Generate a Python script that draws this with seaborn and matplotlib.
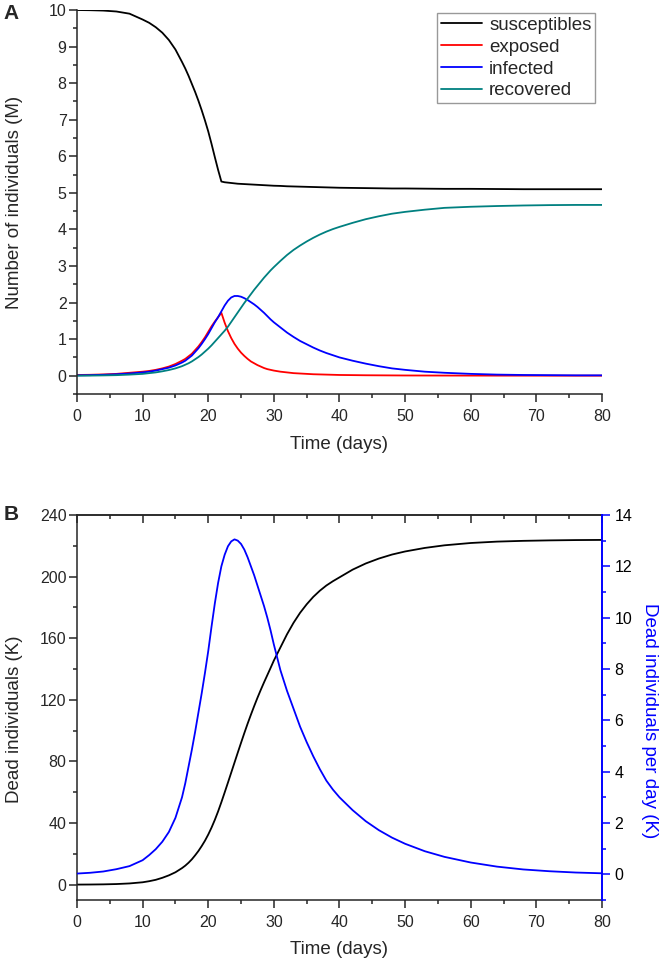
import matplotlib
matplotlib.use("Agg")
import matplotlib.pyplot as plt
from matplotlib.ticker import MultipleLocator
import pandas as pd
import seaborn as sns

# time grid (days), shared by both panels
days = [0, 2, 4, 6, 8, 10, 11, 12, 13, 14, 15, 16, 16.5, 17, 17.5, 18, 18.5, 19, 19.5,
        20, 20.5, 21, 21.5, 22, 22.5, 23, 23.5, 24, 24.5, 25, 25.5, 26, 26.5, 27, 27.5,
        28, 28.5, 29, 29.5, 30, 31, 32, 33, 34, 35, 36, 37, 38, 39, 40, 42, 44, 46, 48,
        50, 53, 56, 60, 64, 68, 72, 76, 80]

# Panel A: compartments (millions)
susceptibles = [10.0, 9.995, 9.985, 9.96, 9.9, 9.74, 9.65, 9.53, 9.38, 9.18, 8.92, 8.58,
                8.4, 8.2, 7.98, 7.76, 7.52, 7.26, 6.98, 6.68, 6.34, 5.98, 5.63, 5.31, 5.29,
                5.28, 5.27, 5.26, 5.25, 5.245, 5.24, 5.235, 5.23, 5.225, 5.22, 5.215, 5.21,
                5.205, 5.2, 5.195, 5.19, 5.18, 5.175, 5.17, 5.165, 5.16, 5.155, 5.15, 5.145,
                5.14, 5.135, 5.13, 5.125, 5.12, 5.12, 5.115, 5.11, 5.11, 5.105, 5.1, 5.1,
                5.1, 5.1]
exposed = [0.02, 0.025, 0.035, 0.05, 0.08, 0.11, 0.13, 0.16, 0.2, 0.25, 0.32, 0.41, 0.46,
           0.53, 0.6, 0.7, 0.8, 0.92, 1.05, 1.2, 1.35, 1.48, 1.6, 1.72, 1.45, 1.22, 1.03,
           0.87, 0.74, 0.63, 0.54, 0.46, 0.39, 0.34, 0.29, 0.25, 0.21, 0.18, 0.16, 0.14,
           0.11, 0.09, 0.07, 0.06, 0.05, 0.04, 0.035, 0.03, 0.025, 0.02, 0.016, 0.012,
           0.01, 0.008, 0.006, 0.005, 0.004, 0.003, 0.002, 0.002, 0.001, 0.001, 0.001]
infected = [0.01, 0.015, 0.025, 0.04, 0.06, 0.09, 0.11, 0.14, 0.18, 0.22, 0.28, 0.36, 0.41,
            0.48, 0.55, 0.65, 0.75, 0.87, 1.0, 1.14, 1.3, 1.46, 1.6, 1.76, 1.92, 2.05, 2.14,
            2.18, 2.18, 2.16, 2.12, 2.07, 2.01, 1.95, 1.88, 1.8, 1.72, 1.63, 1.54, 1.46,
            1.32, 1.18, 1.06, 0.95, 0.86, 0.77, 0.69, 0.62, 0.56, 0.5, 0.41, 0.33, 0.26,
            0.2, 0.16, 0.11, 0.08, 0.05, 0.03, 0.02, 0.015, 0.01, 0.01]
recovered = [0.0, 0.003, 0.008, 0.015, 0.03, 0.05, 0.07, 0.09, 0.12, 0.155, 0.2, 0.26, 0.3,
             0.34, 0.39, 0.45, 0.51, 0.58, 0.66, 0.74, 0.83, 0.93, 1.03, 1.13, 1.23, 1.34,
             1.47, 1.6, 1.73, 1.86, 1.99, 2.11, 2.23, 2.35, 2.46, 2.57, 2.68, 2.78, 2.88,
             2.97, 3.14, 3.3, 3.44, 3.56, 3.67, 3.77, 3.86, 3.94, 4.01, 4.07, 4.18, 4.28,
             4.36, 4.43, 4.48, 4.54, 4.59, 4.62, 4.64, 4.655, 4.665, 4.67, 4.67]

# Panel B: deaths (thousands)
dead_total = [0, 0.05, 0.15, 0.35, 0.75, 1.5, 2.2, 3.1, 4.4, 6.0, 8.0, 10.7, 12.3, 14.2,
              16.4, 19, 21.8, 25, 28.5, 32.5, 37, 42, 47.5, 53.5, 59.8, 66.2, 72.7, 79.2,
              85.7, 92.1, 98.4, 104.5, 110.3, 115.9, 121.3, 126.4, 131.3, 136, 140.7,
              145.5, 154, 162.5, 170, 176.5, 182, 186.8, 190.8, 194.2, 197, 199.5, 204.5,
              208.5, 211.7, 214.3, 216.3, 218.6, 220.3, 221.8, 222.7, 223.2, 223.5, 223.7,
              223.8]
dead_per_day = [0.03, 0.06, 0.11, 0.2, 0.32, 0.55, 0.75, 0.98, 1.27, 1.65, 2.2, 3.0, 3.55,
                4.2, 4.85, 5.55, 6.3, 7.05, 7.85, 8.7, 9.65, 10.55, 11.35, 12.0, 12.45,
                12.78, 12.97, 13.05, 13.0, 12.87, 12.65, 12.35, 12.0, 11.65, 11.25, 10.85,
                10.45, 10.0, 9.5, 8.95, 7.95, 7.15, 6.45, 5.75, 5.15, 4.6, 4.1, 3.65, 3.3,
                3.0, 2.5, 2.07, 1.72, 1.43, 1.19, 0.9, 0.68, 0.46, 0.3, 0.19, 0.12, 0.07,
                0.04]

groups_a = ['susceptibles', 'exposed', 'infected', 'recovered']
palette_a = {'susceptibles': 'black', 'exposed': '#FF0000',
             'infected': '#0000FF', 'recovered': '#008080'}

df_a = pd.DataFrame({'Time': days, 'susceptibles': susceptibles, 'exposed': exposed,
                     'infected': infected, 'recovered': recovered})
df_a = df_a.melt(id_vars='Time', var_name='group', value_name='value')
df_b = pd.DataFrame({'Time': days, 'dead': dead_total, 'per_day': dead_per_day})

sns.set_style("ticks")
plt.rcParams['font.family'] = ['Liberation Sans', 'DejaVu Sans']
plt.rcParams['axes.linewidth'] = 1.1

fig = plt.figure(figsize=(6.61, 9.64), dpi=100)
ax1 = fig.add_axes([0.1165, 0.5913, 0.7942, 0.3983])
ax2 = fig.add_axes([0.1165, 0.0664, 0.7942, 0.3994])

lw = 1.3
fs_tick = 11.5
fs_lab = 13.5
blue = '#0000FF'

# ---- A ----
sns.lineplot(data=df_a, x='Time', y='value', hue='group', hue_order=groups_a,
             palette=palette_a, ax=ax1, linewidth=lw)
sns.despine(ax=ax1)
ax1.set_xlim(0, 80)
ax1.set_ylim(-0.5, 10)
ax1.xaxis.set_major_locator(MultipleLocator(10))
ax1.xaxis.set_minor_locator(MultipleLocator(5))
ax1.yaxis.set_major_locator(MultipleLocator(1))
ax1.yaxis.set_minor_locator(MultipleLocator(0.5))
ax1.tick_params(which='major', direction='out', length=6, width=1.1, labelsize=fs_tick)
ax1.tick_params(which='minor', direction='out', length=3, width=1.1)
ax1.tick_params(axis='x', pad=5)
ax1.tick_params(axis='y', pad=1.5)
ax1.set_xlabel('Time (days)', fontsize=fs_lab)
ax1.set_ylabel('Number of individuals (M)', fontsize=fs_lab)
ax1.xaxis.set_label_coords(0.5, -0.109)
ax1.yaxis.set_label_coords(-0.103, 0.5)
handles, labels = ax1.get_legend_handles_labels()
leg = ax1.legend(handles, labels, loc='upper right', bbox_to_anchor=(0.987, 0.992),
                 borderaxespad=0, frameon=True, fancybox=False, edgecolor='gray',
                 fontsize=13.5, handlelength=2.2, handletextpad=0.37, labelspacing=0.25,
                 borderpad=0.2)
leg.get_frame().set_linewidth(1.0)

# ---- B ----
sns.lineplot(data=df_b, x='Time', y='dead', color='black', ax=ax2, linewidth=lw)
ax3 = ax2.twinx()
sns.lineplot(data=df_b, x='Time', y='per_day', color=blue, ax=ax3, linewidth=lw)

ax2.set_xlim(0, 80)
ax2.set_ylim(-10, 240)
ax3.set_ylim(-1, 14)
ax2.xaxis.set_major_locator(MultipleLocator(10))
ax2.xaxis.set_minor_locator(MultipleLocator(5))
ax2.yaxis.set_major_locator(MultipleLocator(40))
ax2.yaxis.set_minor_locator(MultipleLocator(20))
ax3.yaxis.set_major_locator(MultipleLocator(2))
ax3.yaxis.set_minor_locator(MultipleLocator(1))
ax2.tick_params(which='major', direction='out', length=6, width=1.1, labelsize=fs_tick)
ax2.tick_params(which='minor', direction='out', length=3, width=1.1)
ax2.tick_params(axis='x', pad=5)
ax2.tick_params(axis='y', pad=1.5)
ax3.tick_params(which='major', direction='out', length=6, width=1.1, labelsize=fs_tick,
                color=blue, labelcolor='black', pad=3)
ax3.tick_params(which='minor', direction='out', length=3, width=1.1, color=blue)
ax2.spines['right'].set_visible(False)
for side in ['left', 'top', 'bottom']:
    ax3.spines[side].set_visible(False)
ax3.spines['right'].set_color(blue)
ax3.spines['right'].set_linewidth(1.4)

top = ax2.secondary_xaxis('top')
top.xaxis.set_major_locator(MultipleLocator(10))
top.xaxis.set_minor_locator(MultipleLocator(5))
top.tick_params(which='major', direction='in', length=6, width=1.1, labeltop=False)
top.tick_params(which='minor', direction='in', length=3, width=1.1)
top.spines['top'].set_linewidth(1.1)

ax2.set_xlabel('Time (days)', fontsize=fs_lab)
ax2.set_ylabel('Dead individuals (K)', fontsize=fs_lab)
ax2.xaxis.set_label_coords(0.5, -0.106)
ax2.yaxis.set_label_coords(-0.103, 0.47)
ax3.set_ylabel('Dead individuals per day (K)', fontsize=fs_lab, color=blue, rotation=270)
ax3.yaxis.set_label_coords(1.107, 0.465)

fig.text(0.006, 0.98, 'A', fontsize=15, fontweight='bold', va='baseline')
fig.text(0.006, 0.4606, 'B', fontsize=15, fontweight='bold', va='baseline')

fig.savefig('out.png', dpi=100)
